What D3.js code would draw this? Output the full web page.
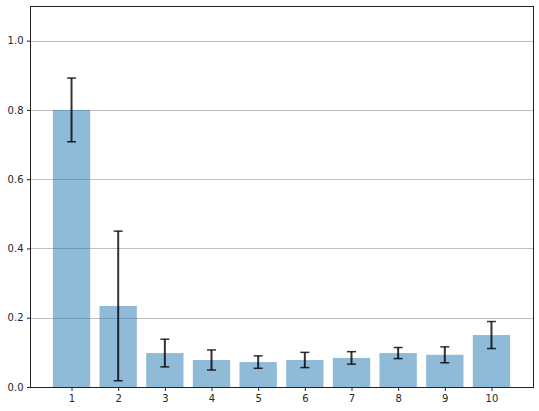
<!DOCTYPE html>
<meta charset="utf-8">
<style>
  body { margin: 0; background: white; }
  .tick text { font-family: "DejaVu Sans", sans-serif; font-size: 10px; fill: #262626; }
</style>
<script src="https://d3js.org/d3.v7.min.js"></script>
<body>
<script>
  var categories = [1, 2, 3, 4, 5, 6, 7, 8, 9, 10];
  var means = [0.800, 0.234, 0.098, 0.078, 0.072, 0.078, 0.084, 0.098, 0.093, 0.150];
  var errors = [0.092, 0.216, 0.040, 0.029, 0.018, 0.022, 0.018, 0.016, 0.023, 0.039];
  var yTicks = [0.0, 0.2, 0.4, 0.6, 0.8, 1.0];

  var w = 539, h = 411;
  var padL = 30, padR = 533, padT = 6, padB = 387;

  var svg = d3.select("body").append("svg")
              .attr("width", w)
              .attr("height", h);

  // numeric x like matplotlib: bars 0.8 wide, 5% margins
  var x = d3.scaleLinear().domain([0.11, 10.89]).range([padL, padR]);
  var y = d3.scaleLinear().domain([0, 1.1]).range([padB, padT]);
  var barW = x(0.8) - x(0);

  // grid
  svg.append("g").selectAll("line")
     .data(yTicks.filter(function (d) { return d > 0; }))
     .enter().append("line")
     .attr("x1", padL).attr("x2", padR)
     .attr("y1", function (d) { return Math.round(y(d)) + 0.5; })
     .attr("y2", function (d) { return Math.round(y(d)) + 0.5; })
     .attr("stroke", "#c0c0c0")
     .attr("stroke-width", 1);

  svg.append("g").selectAll("rect")
     .data(categories)
     .enter().append("rect")
     .attr("x", function (d) { return x(d) - barW / 2; })
     .attr("width", barW)
     .attr("y", function (d, i) { return y(means[i]); })
     .attr("height", function (d, i) { return padB - y(means[i]); })
     .attr("fill", "#1f77b4")
     .attr("fill-opacity", 0.5);

  var err = svg.append("g").attr("stroke", "#000").attr("stroke-opacity", 0.8);
  categories.forEach(function (d, i) {
    var cx = x(d), lo = y(means[i] - errors[i]), hi = y(means[i] + errors[i]);
    err.append("line").attr("x1", cx).attr("x2", cx).attr("y1", lo).attr("y2", hi)
       .attr("stroke-width", 2);
    [lo, hi].forEach(function (yy) {
      err.append("line").attr("x1", cx - 4.5).attr("x2", cx + 4.5).attr("y1", yy).attr("y2", yy)
         .attr("stroke-width", 1.5);
    });
  });

  var xAxis = svg.append("g")
     .attr("transform", "translate(0," + (padB + 0.5) + ")")
     .call(d3.axisBottom(x).tickValues(categories).tickSize(3.5).tickPadding(3.5)
            .tickFormat(d3.format("d")));
  xAxis.select(".domain").remove();

  var yAxis = svg.append("g")
     .attr("transform", "translate(" + (padL + 0.5) + ",0)")
     .call(d3.axisLeft(y).tickValues(yTicks).tickSize(3.5).tickPadding(3.5)
            .tickFormat(d3.format(".1f")));
  yAxis.select(".domain").remove();
  svg.selectAll(".tick line").attr("stroke", "#222").attr("stroke-width", 1);

  // frame
  svg.append("rect")
     .attr("x", padL + 0.5).attr("y", padT + 0.5)
     .attr("width", padR - padL).attr("height", padB - padT)
     .attr("fill", "none").attr("stroke", "#222").attr("stroke-width", 1);
</script>
</body>
